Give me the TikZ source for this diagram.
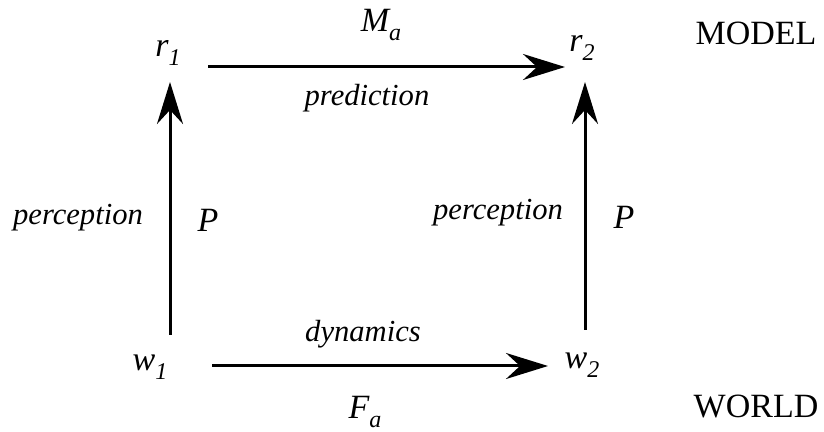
\documentclass[tikz,border=0pt]{standalone}
\usepackage{fontspec}
\setmainfont{LiberationSerif}[Extension=.ttf, UprightFont=*-Regular,
  ItalicFont=*-Italic, BoldFont=*-Bold, BoldItalicFont=*-BoldItalic]
\usetikzlibrary{positioning,calc,arrows.meta}

\newcommand{\lowidx}[1]{\raisebox{-0.6ex}{\fontsize{12}{13}\selectfont\itshape #1}}
\newcommand{\varsize}{\fontsize{17}{20}\selectfont}
\newcommand{\labsize}{\fontsize{15.3}{18}\selectfont}

\tikzset{
  var/.style={inner sep=0pt, font=\varsize\itshape},
  lab/.style={inner sep=0pt, font=\labsize\itshape},
  lvl/.style={inner sep=0pt, font=\fontsize{17}{20}\selectfont},
  flow/.style={line width=1.5pt,
    -{Stealth[length=21pt, width=13pt, inset=7pt]}}
}

\begin{document}
\begin{tikzpicture}[x=0.5pt, y=-0.5pt]

\useasboundingbox (0,0) rectangle (824,432);

% --- STATES ---
\node[var] (r1) at (168,53)  {r\lowidx{1}};
\node[var] (r2) at (582,48)  {r\lowidx{2}};
\node[var] (w1) at (150,367) {w\lowidx{1}};
\node[var] (w2) at (582,365) {w\lowidx{2}};

% --- MAPS ---
\draw[flow] ([shift={(40,14)}]r1.center) -- ([shift={(-17,19)}]r2.center);
\draw[flow] ([shift={(62,-1)}]w1.center) -- ([shift={(-34,1)}]w2.center);
\draw[flow] ([shift={(20,-32)}]w1.center) -- ([shift={(2,29)}]r1.center);
\draw[flow] ([shift={(3,-35)}]w2.center) -- ([shift={(3,34)}]r2.center);

% --- LABELS ---
\node[var] (ma) at (381,25)  {M\lowidx{a}};
\node[lab] (pred) at (367,98) {prediction};
\node[lab] (dyn) at (363,334) {dynamics};
\node[var] (fa) at (365,412) {F\lowidx{a}};

\node[lab] (percL) at (78,218)  {perception};
\node[var] (pL)    at (208,220) {P};
\node[lab] (percR) at (498,213) {perception};
\node[var] (pR)    at (624,217) {P};

% --- LEVELS ---
\node[lvl] (model) at (756,33)  {MODEL};
\node[lvl] (world) at (756,407) {WORLD};

\end{tikzpicture}
\end{document}
